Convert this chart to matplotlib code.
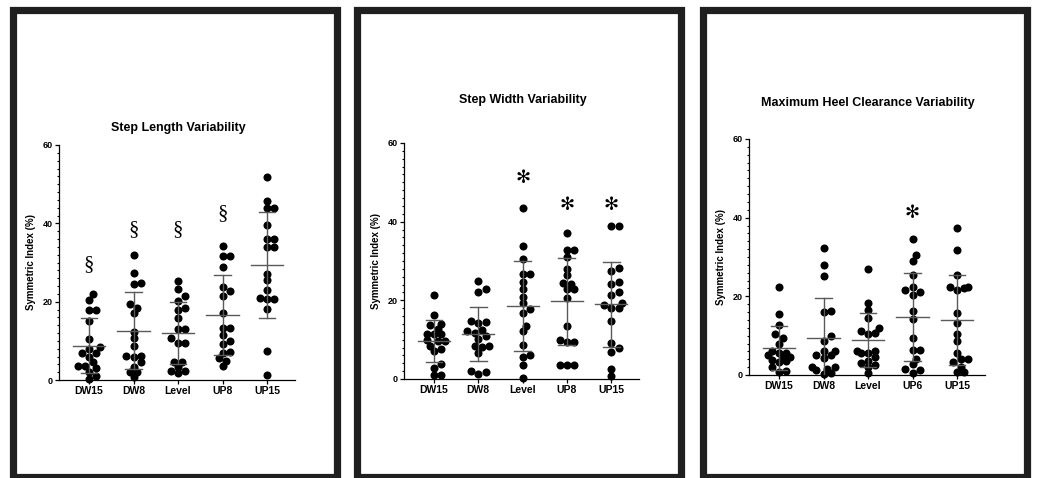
import numpy as np
import matplotlib
matplotlib.use("Agg")
import matplotlib.pyplot as plt
from matplotlib.patches import Rectangle
from matplotlib.ticker import MultipleLocator

# canvas size in pixels
W, H = 1037, 478

# categories
cats_length = ["DW15", "DW8", "Level", "UP8", "UP15"]
cats_width = ["DW15", "DW8", "Level", "UP8", "UP15"]
cats_heel = ["DW15", "DW8", "Level", "UP6", "UP15"]

# symmetric index (%) per condition
length_dw15 = [22.0, 20.5, 18.0, 18.0, 15.0, 10.5, 8.5, 8.0, 7.0, 7.0, 6.0, 4.5, 3.5, 3.5, 3.0, 2.0, 1.0, 0.3]
length_dw8 = [32.0, 27.3, 24.7, 24.4, 19.3, 18.3, 17.0, 12.3, 10.6, 8.8, 6.1, 6.1, 6.0, 4.5, 3.4, 2.1, 2.1, 0.7]
length_level = [25.4, 23.2, 21.4, 20.2, 18.3, 17.9, 15.9, 13.0, 13.0, 10.6, 9.4, 9.4, 4.5, 4.5, 3.2, 2.4, 2.4, 1.9]
length_up8 = [34.2, 31.7, 31.7, 28.9, 23.8, 22.6, 21.5, 17.0, 13.2, 13.2, 11.5, 10.0, 9.3, 7.0, 7.2, 5.7, 4.9, 3.6]
length_up15 = [51.8, 45.8, 43.9, 43.9, 39.5, 36.1, 36.1, 34.0, 34.0, 27.1, 25.5, 23.0, 21.0, 20.8, 20.8, 18.1, 7.4, 1.4]

width_dw15 = [21.4, 16.2, 13.8, 14.0, 12.7, 11.5, 11.5, 11.5, 9.6, 9.6, 9.8, 8.5, 7.0, 7.6, 3.9, 2.8, 1.1, 1.1]
width_dw8 = [25.0, 23.0, 22.2, 14.8, 14.6, 14.2, 12.5, 12.2, 11.6, 11.0, 10.2, 8.4, 8.2, 8.5, 6.7, 2.0, 1.8, 1.3]
width_level = [43.5, 33.7, 30.5, 26.7, 26.7, 24.7, 23.0, 20.8, 19.2, 17.9, 16.8, 13.6, 12.1, 8.7, 6.2, 5.5, 3.5, 0.3]
width_up8 = [37.1, 32.9, 32.7, 30.9, 28.0, 26.4, 24.5, 24.1, 22.8, 22.8, 20.6, 13.6, 9.3, 9.3, 9.8, 3.6, 3.6, 3.6]
width_up15 = [38.8, 38.8, 28.1, 27.5, 24.7, 24.2, 22.0, 21.4, 18.7, 19.3, 18.1, 18.1, 14.8, 9.2, 7.9, 6.8, 2.5, 0.7]

heel_dw15 = [22.5, 15.4, 12.7, 10.4, 9.3, 8.0, 6.1, 5.5, 5.5, 5.0, 4.5, 4.2, 3.8, 3.5, 3.2, 2.0, 1.1, 0.8]
heel_dw8 = [32.4, 28.0, 25.2, 16.3, 16.1, 9.8, 8.7, 6.2, 6.2, 5.2, 5.0, 4.2, 2.1, 2.1, 1.6, 1.3, 0.4, 0.3]
heel_level = [26.9, 18.4, 16.5, 14.4, 11.9, 11.3, 10.8, 10.5, 6.1, 6.1, 5.7, 5.5, 4.5, 3.6, 3.0, 2.5, 2.1, 0.4]
heel_up6 = [34.5, 30.4, 29.1, 25.3, 22.3, 21.5, 21.0, 20.4, 16.3, 14.3, 9.5, 6.3, 6.3, 4.1, 2.7, 1.5, 1.3, 0.4]
heel_up15 = [37.5, 31.7, 25.3, 22.5, 22.3, 22.1, 21.6, 15.7, 13.3, 10.4, 8.7, 5.5, 4.0, 4.0, 3.2, 2.1, 0.7, 0.7]

# significance marks above each group
marks_length = ["§", "§", "§", "§", ""]
marks_width = ["", "", "✻", "✻", "✻"]
marks_heel = ["", "", "", "✻", ""]


def px_rect(left, top, right, bottom):
    # pixel box (origin top-left) -> figure fraction [l, b, w, h]
    return [left / W, 1 - bottom / H, (right - left) / W, (bottom - top) / H]


def swarm(values, px_x, px_y, d=7.4, max_k=3):
    # simple beeswarm: place points bottom-up on half-diameter steps,
    # never wider than max_k steps; if crowded take the least-overlapping slot
    values = np.asarray(values)
    order = np.argsort(values)
    placed = []
    offs = np.zeros(len(values))
    steps = [0]
    for k in range(1, max_k + 1):
        steps += [k, -k]
    for i in order:
        y = values[i] * px_y
        best, best_gap = 0.0, -1.0
        for k in steps:
            x = k * d / 2
            gap = min([np.hypot(x - a, y - b) for a, b in placed] or [99.0])
            if gap >= d * 0.82:
                best = x
                break
            if gap > best_gap:
                best, best_gap = x, gap
        placed.append((best, y))
        offs[i] = best / px_x
    return offs


def draw_panel(frame_x, ax_box, title, title_y, cats, groups, marks, mark_y):
    fl, fr = frame_x
    # thick dark frame around the panel
    fig.patches.append(Rectangle((fl / W, 1 - 476.5 / H), (fr - fl) / W, (476.5 - 9.5) / H,
                                 transform=fig.transFigure, fill=False,
                                 edgecolor="#1f1f1f", linewidth=5.2, zorder=0))

    left, top, right, bottom, x0, dx = ax_box
    ax = fig.add_axes(px_rect(left, top, right, bottom))
    ax.set_xlim(-(x0 - left) / dx, (right - x0) / dx)
    ax.set_ylim(0, 60)

    px_y = (bottom - top) / 60.0
    for i, vals in enumerate(groups):
        vals = np.asarray(vals)
        xs = i + swarm(vals, dx, px_y)
        ax.plot(xs, vals, "o", color="black", ms=5.8, mew=0, clip_on=False, zorder=3)
        m = vals.mean()
        sd = vals.std(ddof=1)
        ax.plot([i - 0.36, i + 0.36], [m, m], color="#5a5a5a", lw=1.0, zorder=4)
        ax.plot([i, i], [max(m - sd, 0), m + sd], color="#5a5a5a", lw=1.0, zorder=4)
        for v in (m - sd, m + sd):
            if v > 0:
                ax.plot([i - 0.19, i + 0.19], [v, v], color="#5a5a5a", lw=1.0, zorder=4)
        if marks[i] == "§":
            ax.text(i, mark_y[i], marks[i], ha="center", va="center",
                    fontsize=15, family="Liberation Serif", clip_on=False)
        elif marks[i]:
            ax.text(i, mark_y[i], marks[i], ha="center", va="center",
                    fontsize=13, family="DejaVu Sans", clip_on=False)

    for s in ("top", "right"):
        ax.spines[s].set_visible(False)
    for s in ("left", "bottom"):
        ax.spines[s].set_linewidth(0.9)
    ax.set_xticks(range(len(cats)))
    ax.set_xticklabels(cats, fontsize=7.5, fontweight="bold", family="Liberation Sans")
    ax.set_yticks([0, 20, 40, 60])
    ax.set_yticklabels(["0", "20", "40", "60"], fontsize=6.5, fontweight="bold",
                       family="Liberation Sans")
    ax.yaxis.set_minor_locator(MultipleLocator(2))
    ax.tick_params(axis="both", which="major", length=3, width=0.9, pad=1.5)
    ax.tick_params(axis="y", which="minor", length=1.8, width=0.8)
    ax.set_ylabel("Symmetric Index (%)", fontsize=7, fontweight="bold",
                  family="Liberation Sans")
    ax.yaxis.set_label_coords(-23 / (right - left), 0.5)
    ax.patch.set_alpha(0)

    # title centred over the middle category
    fig.text((x0 + 2 * dx) / W, 1 - title_y / H, title, ha="center", va="center",
             fontsize=9, fontweight="bold", family="Liberation Sans")
    return ax


fig = plt.figure(figsize=(W / 100, H / 100), dpi=100)
fig.patch.set_facecolor("white")

draw_panel((12.5, 336.5), (59, 145, 295, 380, 89, 44.5), "Step Length Variability", 128,
           cats_length, [length_dw15, length_dw8, length_level, length_up8, length_up15],
           marks_length, [29.4, 38.3, 38.3, 42.6, 0])
draw_panel((357, 681), (404, 143, 639, 379, 434, 44.3), "Step Width Variability", 100,
           cats_width, [width_dw15, width_dw8, width_level, width_up8, width_up15],
           marks_width, [0, 0, 51.2, 44.2, 44.2])
draw_panel((702.5, 1026.5), (749, 139, 985, 375, 779, 44.5), "Maximum Heel Clearance Variability", 103,
           cats_heel, [heel_dw15, heel_dw8, heel_level, heel_up6, heel_up15],
           marks_heel, [0, 0, 0, 41.3, 0])

fig.savefig("out.png", dpi=100, facecolor="white")
